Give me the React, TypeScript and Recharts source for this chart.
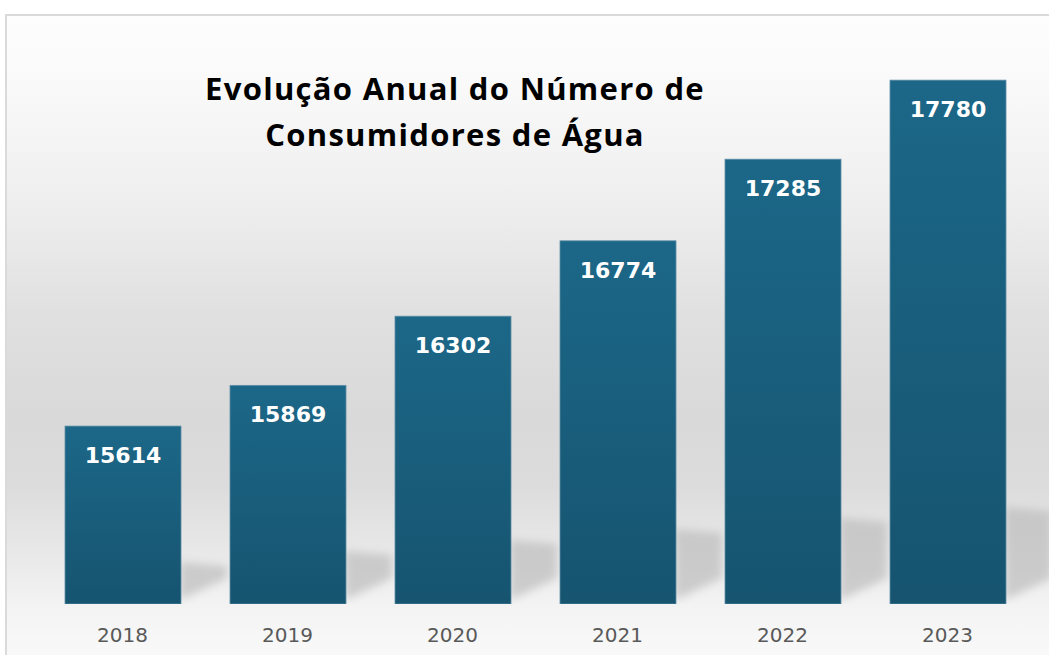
import React from 'react';
import { BarChart, Bar, XAxis, YAxis, LabelList } from 'recharts';

const years: string[] = ['2018', '2019', '2020', '2021', '2022', '2023'];
const consumers: number[] = [15614, 15869, 16302, 16774, 17285, 17780];
const titleLines: string[] = ['Evolução Anual do Número de', 'Consumidores de Água'];

const data = years.map((y, i) => ({ year: y, value: consumers[i] }));

const BarShape = (props: any) => {
  const { x, y, width, height, index } = props;
  const gid = `barGrad${index}`;
  const fid = `shadowBlur${index}`;
  const bottom = y + height;
  const r = x + width;
  const top = 42 + index * 11;
  const shadowPts = [
    [r - 1, bottom - top],
    [r + 46, bottom - top + 4],
    [r + 46, bottom - 26],
    [r - 1, bottom - 4],
  ]
    .map((p) => p.join(','))
    .join(' ');
  return (
    <g>
      <defs>
        <linearGradient id={gid} x1="0" y1="0" x2="0" y2="1">
          <stop offset="0%" stopColor="#1c6788" />
          <stop offset="100%" stopColor="#165470" />
        </linearGradient>
        <filter id={fid} x="-50%" y="-50%" width="200%" height="200%">
          <feGaussianBlur stdDeviation="4" />
        </filter>
      </defs>
      <polygon points={shadowPts} fill="#bdbdbd" opacity={0.7} filter={`url(#${fid})`} />
      <rect x={x} y={y} width={width} height={height} fill={`url(#${gid})`} stroke="#5f90a6" strokeWidth={0.8} />
    </g>
  );
};

const ValueLabel = (props: any) => {
  const { x, y, width, value } = props;
  return (
    <text
      x={x + width / 2}
      y={y + 37}
      textAnchor="middle"
      fill="#ffffff"
      fontFamily="'DejaVu Sans', Verdana, sans-serif"
      fontWeight="bold"
      fontSize={22}
    >
      {value}
    </text>
  );
};

export default function App() {
  return (
    <div style={{ position: 'absolute', left: 0, top: 0, width: 1049, height: 655, background: '#ffffff', overflow: 'hidden' }}>
      <div
        style={{
          position: 'absolute',
          left: 5,
          top: 14,
          width: 1060,
          height: 660,
          borderTop: '2px solid #dadada',
          borderLeft: '2px solid #dadada',
          background:
            'linear-gradient(to bottom, #fdfdfd 0px, #fafafa 60px, #eeeeee 190px, #e0e0e0 300px, #d9d9d9 400px, #dcdcdc 470px, #e9e9e9 540px, #f3f3f3 590px, #f9f9f9 641px)',
        }}
      />
      <div style={{ position: 'absolute', left: 0, top: 0 }}>
        <BarChart width={1049} height={655} data={data} margin={{ top: 45, right: 19, bottom: 21, left: 40 }}>
          <XAxis
            dataKey="year"
            axisLine={false}
            tickLine={false}
            height={30}
            tickMargin={18}
            tick={{ fill: '#595959', fontSize: 20, fontFamily: "'DejaVu Sans', Verdana, sans-serif" }}
            interval={0}
          />
          <YAxis hide domain={[14500, 18000]} allowDataOverflow />
          <Bar dataKey="value" barSize={116} shape={<BarShape />} isAnimationActive={false}>
            <LabelList dataKey="value" content={<ValueLabel />} />
          </Bar>
        </BarChart>
      </div>
      <div
        style={{
          position: 'absolute',
          left: 105,
          top: 65,
          width: 700,
          textAlign: 'center',
          fontFamily: "'Open Sans', sans-serif",
          fontWeight: 700,
          fontSize: 31,
          letterSpacing: '1.3px',
          lineHeight: '46px',
          color: '#000000',
        }}
      >
        {titleLines.map((t) => (
          <div key={t}>{t}</div>
        ))}
      </div>
    </div>
  );
}
